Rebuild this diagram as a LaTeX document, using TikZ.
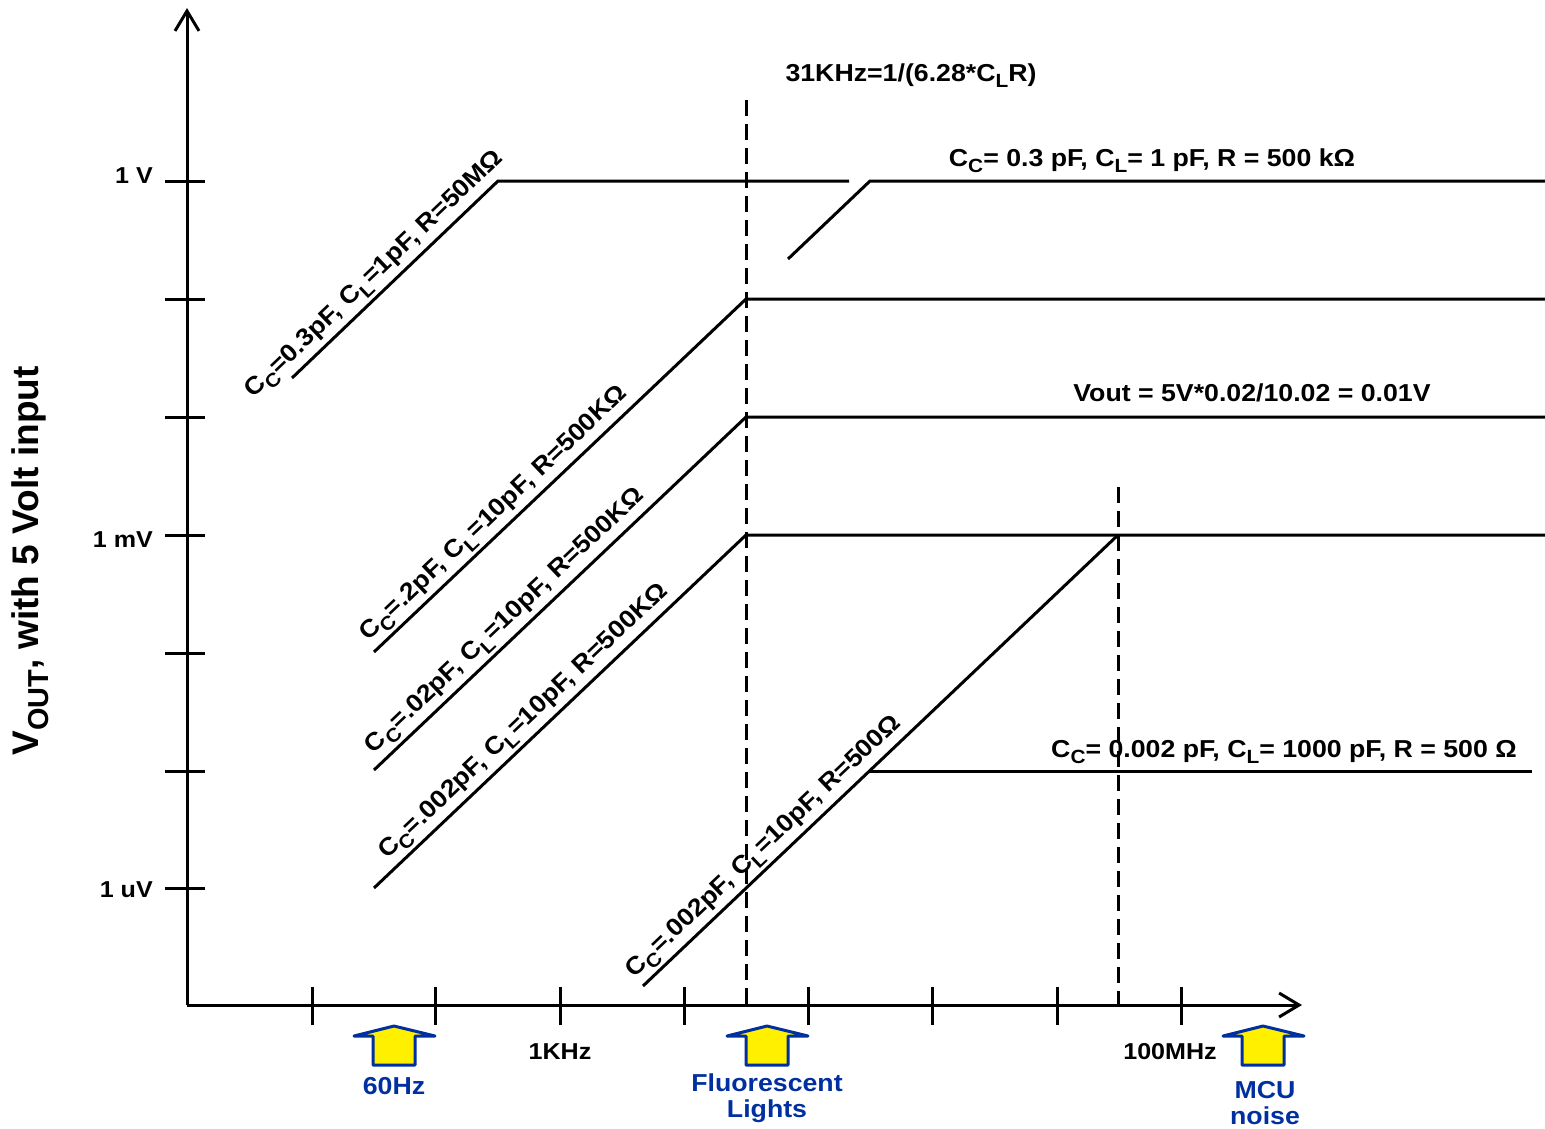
\documentclass[tikz,border=0pt]{standalone}
\usepackage{fontspec}
\usepackage{graphicx}
\setmainfont[FakeStretch=1.09]{Liberation Sans}
\newfontfamily\plainfont{Liberation Sans}
\usetikzlibrary{arrows.meta}
\definecolor{navy}{RGB}{0,48,160}
\definecolor{ylw}{RGB}{255,240,0}
\newcommand{\sbs}[1]{\raisebox{-0.28em}{\scalebox{0.78}{#1}}}
\begin{document}
\begin{tikzpicture}[x=1pt,y=-1pt,
  font={\fontsize{24.5}{27}\selectfont\bfseries},
  curve/.style={line width=3pt},
  axis/.style={line width=3pt,-{Straight Barb[length=20pt,width=24pt,line width=3pt]}},
  tickmark/.style={line width=3pt},
  dashline/.style={line width=3pt,dash pattern=on 16pt off 8pt},
  lbl/.style={sloped,above=3pt,inner sep=0pt},
  txt/.style={inner sep=0pt},
  ticktxt/.style={inner sep=0pt,font={\fontsize{23}{26}\selectfont\bfseries}},
  bluetxt/.style={inner sep=0pt,text=navy,align=center,font={\fontsize{24.5}{26}\selectfont\bfseries}},
  uparrow/.pic={\draw[draw=navy,fill=ylw,line width=3pt,line join=round]
     (-40,10) -- (0,0) -- (41,10) -- (21,10) -- (21,39) -- (-21,39) -- (-21,10) -- cycle;}
]
\useasboundingbox (0,0) rectangle (1545,1128);
% axes
\coordinate (O) at (187,1005);
\coordinate (ytip) at (187,8);
\coordinate (xtip) at (1302,1005);
\draw[axis] (O) -- (ytip);
\draw[axis] (O) -- (xtip);
\foreach \y in {181,299,417,535,653,771,888} \draw[tickmark] (165,\y) -- (205,\y);
\foreach \x in {312,435,560,684,808,932,1057,1181} \draw[tickmark] (\x,987) -- (\x,1025);
% tick labels
\node[ticktxt,anchor=base east] (t1V) at (153,183) {1 V};
\node[ticktxt,anchor=base east] (t1mV) at (153,547) {1 mV};
\node[ticktxt,anchor=base east] (t1uV) at (153,897) {1 uV};
\node[ticktxt,anchor=base] (t1k) at (560,1059) {1KHz};
\node[ticktxt,anchor=base] (t100M) at (1170,1059) {100MHz};
\node[txt,rotate=90,font={\plainfont\fontsize{37}{40}\selectfont\bfseries}] (ylab) at (30,561) {V\sbs{OUT}, with 5 Volt input};
% dashed markers
\coordinate (d1t) at (746,100); \coordinate (d1b) at (746,1005);
\coordinate (d2t) at (1118,487); \coordinate (d2b) at (1118,1005);
\draw[dashline] (d1t) -- (d1b);
\draw[dashline] (d2t) -- (d2b);
% curves
\coordinate (a0) at (292,378); \coordinate (a1) at (498,181); \coordinate (a2) at (849,181);
\draw[curve] (a0) -- node[lbl,pos=.46] (la) {C\sbs{C}=0.3pF, C\sbs{L}=1pF, R=50MΩ} (a1) -- (a2);
\coordinate (b0) at (788,259); \coordinate (b1) at (870,181); \coordinate (b2) at (1545,181);
\draw[curve] (b0) -- (b1) -- (b2);
\coordinate (c0) at (374,652); \coordinate (c1) at (746,299); \coordinate (c2) at (1545,299);
\draw[curve] (c0) -- node[lbl,pos=.355] (lc) {C\sbs{C}=.2pF, C\sbs{L}=10pF, R=500KΩ} (c1) -- (c2);
\coordinate (e0) at (374,770); \coordinate (e1) at (746,417); \coordinate (e2) at (1545,417);
\draw[curve] (e0) -- node[lbl,pos=.385] (le) {C\sbs{C}=.02pF, C\sbs{L}=10pF, R=500KΩ} (e1) -- (e2);
\coordinate (f0) at (374,888); \coordinate (f1) at (746,535); \coordinate (f2) at (1545,535);
\draw[curve] (f0) -- node[lbl,pos=.435] (lf) {C\sbs{C}=.002pF, C\sbs{L}=10pF, R=500KΩ} (f1) -- (f2);
\coordinate (g0) at (643,986); \coordinate (g1) at (1118,535);
\draw[curve] (g0) -- node[lbl,pos=.28] (lg) {C\sbs{C}=.002pF, C\sbs{L}=10pF, R=500Ω} (g1);
\coordinate (h0) at (870,771); \coordinate (h1) at (1532,771);
\draw[curve] (h0) -- (h1);
% annotations
\node[txt,anchor=base] (f31) at (911,81) {31KHz=1/(6.28*C\sbs{L}R)};
\node[txt,anchor=base] (lb) at (1152,166) {C\sbs{C}= 0.3 pF, C\sbs{L}= 1 pF, R = 500 kΩ};
\node[txt,anchor=base] (vout) at (1252,401) {Vout = 5V*0.02/10.02 = 0.01V};
\node[txt,anchor=base] (lh) at (1284,757) {C\sbs{C}= 0.002 pF, C\sbs{L}= 1000 pF, R = 500 Ω};
% noise sources
\pic at (394,1026) {uparrow};
\pic at (767,1026) {uparrow};
\pic at (1263,1026) {uparrow};
\node[bluetxt,anchor=base] (n60) at (394,1094) {60Hz};
\node[bluetxt,anchor=base] (nfl) at (767,1117) {Fluorescent\\Lights};
\node[bluetxt,anchor=base] (nmcu) at (1265,1124) {MCU\\noise};
\end{tikzpicture}
\end{document}
